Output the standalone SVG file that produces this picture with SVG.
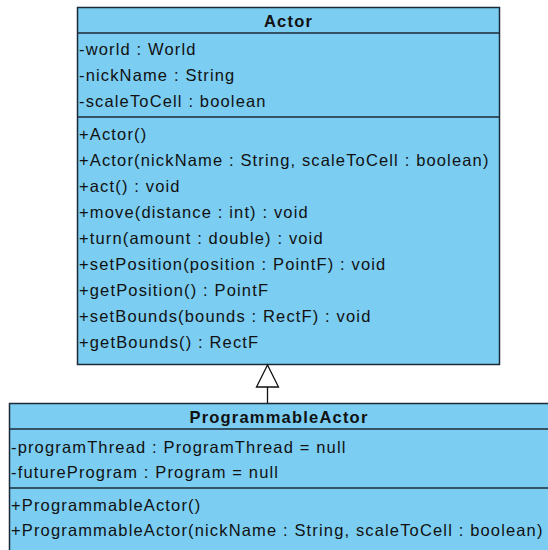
<svg xmlns="http://www.w3.org/2000/svg" width="548" height="550" viewBox="0 0 548 550">
  <style>
    .box { fill: #7bcdf1; stroke: #1c2a38; stroke-width: 1.5; }
    .sep { stroke: #1c2a38; stroke-width: 1.5; }
    .title { font-family: "Liberation Sans", Arial, sans-serif; font-size: 16.5px; font-weight: bold; fill: #111; text-anchor: middle; letter-spacing: 1.2px; }
    .member { font-family: "Liberation Sans", Arial, sans-serif; font-size: 16.5px; fill: #111; letter-spacing: 1.15px; }
    .edge { stroke: #111; stroke-width: 1.3; fill: none; }
    .head { stroke: #111; stroke-width: 1.3; fill: #fff; }
  </style>
  <rect width="548" height="550" fill="#ffffff"/>

  <!-- class Actor -->
  <g id="actor">
    <rect class="box" x="77.5" y="7.5" width="422" height="357"/>
    <line class="sep" x1="77.5" y1="33" x2="499.5" y2="33"/>
    <line class="sep" x1="77.5" y1="117" x2="499.5" y2="117"/>
    <text class="title" x="288.5" y="27">Actor</text>
    <text class="member" x="79" y="55">-world : World</text>
    <text class="member" x="79" y="81">-nickName : String</text>
    <text class="member" x="79" y="107">-scaleToCell : boolean</text>
    <text class="member" x="79" y="140">+Actor()</text>
    <text class="member" x="79" y="166">+Actor(nickName : String, scaleToCell : boolean)</text>
    <text class="member" x="79" y="192">+act() : void</text>
    <text class="member" x="79" y="218">+move(distance : int) : void</text>
    <text class="member" x="79" y="244">+turn(amount : double) : void</text>
    <text class="member" x="79" y="270">+setPosition(position : PointF) : void</text>
    <text class="member" x="79" y="296">+getPosition() : PointF</text>
    <text class="member" x="79" y="322">+setBounds(bounds : RectF) : void</text>
    <text class="member" x="79" y="348">+getBounds() : RectF</text>
  </g>

  <!-- class ProgrammableActor -->
  <g id="programmable-actor">
    <rect class="box" x="9.5" y="403.5" width="545" height="152"/>
    <line class="sep" x1="9.5" y1="429" x2="554" y2="429"/>
    <line class="sep" x1="9.5" y1="488" x2="554" y2="488"/>
    <text class="title" x="279" y="423">ProgrammableActor</text>
    <text class="member" x="11" y="453">-programThread : ProgramThread = null</text>
    <text class="member" x="11" y="478">-futureProgram : Program = null</text>
    <text class="member" x="11" y="511">+ProgrammableActor()</text>
    <text class="member" x="11" y="536">+ProgrammableActor(nickName : String, scaleToCell : boolean)</text>
  </g>

  <!-- generalization: ProgrammableActor extends Actor -->
  <g id="connectors">
    <line class="edge" x1="267.5" y1="403" x2="267.5" y2="387"/>
    <polygon class="head" points="267.5,365 256.5,387 278.5,387"/>
  </g>
</svg>
